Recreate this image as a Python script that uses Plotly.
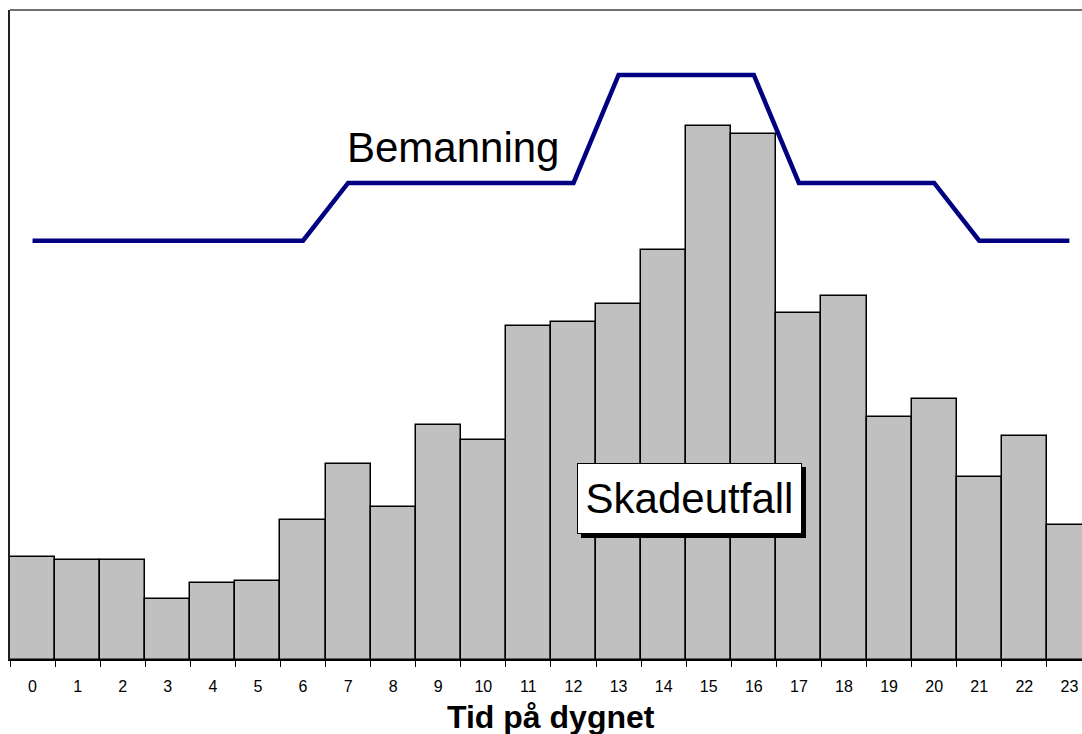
import plotly.graph_objects as go

hours = list(range(24))
hour_labels = [str(h) for h in hours]
skadeutfall = [15.8, 15.4, 15.4, 9.4, 11.8, 12.1, 21.5, 30.2, 23.5, 36.1, 33.8, 51.4,
               52.0, 54.8, 63.1, 82.2, 80.9, 53.4, 56.0, 37.4, 40.1, 28.2, 34.4, 20.8]
bemanning = [64.5, 64.5, 64.5, 64.5, 64.5, 64.5, 64.5, 73.4, 73.4, 73.4, 73.4, 73.4,
             73.4, 90.0, 90.0, 90.0, 90.0, 73.4, 73.4, 73.4, 73.4, 64.5, 64.5, 64.5]
x_title = "Tid på dygnet"
label_line = "Bemanning"
label_bars = "Skadeutfall"

FONT = "Liberation Sans, Arial, sans-serif"

fig = go.Figure()
fig.add_trace(go.Bar(
    x=hours, y=skadeutfall, width=1.0,
    marker=dict(color="#c0c0c0", line=dict(color="black", width=1.5)),
    showlegend=False, hoverinfo="x+y",
))
fig.add_trace(go.Scatter(
    x=hours, y=bemanning, mode="lines",
    line=dict(color="#000080", width=4.5),
    showlegend=False,
))

box = dict(x=14.58, y=24.8, xref="x", yref="y", text=label_bars, showarrow=False,
           font=dict(size=42, family=FONT, color="black"),
           borderwidth=1, borderpad=6, width=211, height=57)

fig.update_layout(
    width=1082, height=734,
    margin=dict(l=10, r=0, t=10, b=74),
    paper_bgcolor="white", plot_bgcolor="white",
    font=dict(family=FONT, color="black"),
    bargap=0,
    xaxis=dict(
        type="linear", range=[-0.5, 23.28],
        tickvals=hours, ticktext=hour_labels, ticks="",
        tickfont=dict(size=16, family=FONT, color="black"),
        showgrid=False, zeroline=False,
        showline=True, linecolor="black", linewidth=1,
        minor=dict(ticks="outside", tick0=-0.5, dtick=1, ticklen=6,
                   tickcolor="black", tickwidth=1.2, showgrid=False),
        ticklabelstandoff=12,
    ),
    yaxis=dict(
        range=[0, 100], showticklabels=False, ticks="",
        showgrid=False, zeroline=False,
        showline=True, linecolor="#202020", linewidth=2,
    ),
    shapes=[dict(type="line", xref="paper", yref="paper", x0=0, x1=1, y0=1, y1=1,
                 line=dict(color="#707070", width=2))],
    annotations=[
        dict(x=11.5, xref="x", y=0, yref="paper", yshift=-57, yanchor="middle",
             text="<b>" + x_title + "</b>", showarrow=False,
             font=dict(size=32, family=FONT, color="black")),
        dict(x=9.33, y=78.8, xref="x", yref="y", text=label_line, showarrow=False,
             font=dict(size=42, family=FONT, color="black")),
        dict(box, xshift=4, yshift=-4, bgcolor="black", bordercolor="black"),
        dict(box, bgcolor="white", bordercolor="black"),
    ],
)

fig.write_html("out.html", config={"displayModeBar": False},
               post_script="document.body.style.margin='0';document.body.style.overflow='hidden';")
